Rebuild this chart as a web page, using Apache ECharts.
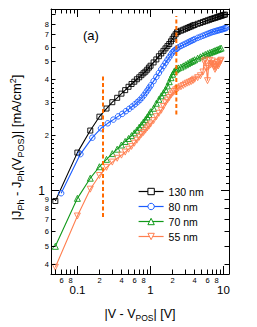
<!DOCTYPE html>
<html><head><meta charset="utf-8">
<script src="https://cdn.jsdelivr.net/npm/echarts@6/dist/echarts.min.js"></script>
<style>html,body{margin:0;padding:0;background:#fff}#c{width:257px;height:327px}</style>
</head><body><div id="c"></div>
<script>
const FONT = '"Liberation Sans", Arial, sans-serif';
const seriesNames = ['130 nm', '80 nm', '70 nm', '55 nm'];
const seriesColors = ['#000000', '#1a5cff', '#11991a', '#ff7f50'];

const x130 = [0.05,0.10,0.15,0.20,0.25,0.30,0.35,0.40,0.45,0.50,0.55,0.60,0.65,0.70,0.75,0.80,0.85,0.90,0.95,1.00,1.1,1.2,1.3,1.4,1.5,1.6,1.7,1.8,1.9,2.0,2.1,2.2,2.3,2.4,2.6,2.8,3.0,3.2,3.4,3.6,3.8,4.0,4.4,4.8,5.2,5.6,6.0,6.4,6.8,7.2,7.6,8.0,8.4,8.8,9.2,9.6,10.0,10.4];
const y130 = [0.88,1.61,2.12,2.52,2.79,3.02,3.19,3.36,3.51,3.66,3.79,3.90,4.02,4.12,4.23,4.33,4.42,4.53,4.65,4.76,4.96,5.15,5.36,5.55,5.73,5.91,6.08,6.24,6.45,6.66,6.86,7.05,7.23,7.28,7.37,7.46,7.55,7.63,7.71,7.78,7.86,7.92,8.03,8.12,8.22,8.30,8.38,8.45,8.53,8.59,8.65,8.71,8.76,8.82,8.87,8.92,8.97,9.01];

const x80 = [0.06,0.11,0.16,0.21,0.26,0.31,0.36,0.41,0.46,0.51,0.56,0.61,0.66,0.71,0.76,0.81,0.86,0.91,0.96,1.01,1.1,1.2,1.3,1.4,1.5,1.6,1.7,1.8,1.9,2.0,2.1,2.2,2.3,2.4,2.6,2.8,3.0,3.2,3.4,3.6,3.8,4.0,4.4,4.8,5.2,5.6,6.0,6.4,6.8,7.2,7.6,8.0,8.4,8.8,9.2,9.6,10.0,10.4,10.8];
const y80 = [0.97,1.58,1.94,2.18,2.32,2.43,2.53,2.61,2.70,2.78,2.86,2.94,3.02,3.10,3.19,3.29,3.40,3.51,3.62,3.73,3.93,4.14,4.35,4.55,4.74,4.93,5.12,5.29,5.47,5.63,5.74,5.82,5.90,5.98,6.09,6.18,6.26,6.34,6.42,6.49,6.56,6.63,6.74,6.83,6.92,7.00,7.08,7.15,7.22,7.27,7.31,7.36,7.40,7.44,7.48,7.51,7.55,7.59,7.62];

const x70 = [0.05,0.10,0.15,0.20,0.25,0.30,0.35,0.40,0.45,0.50,0.55,0.60,0.65,0.70,0.75,0.80,0.85,0.90,0.95,1.00,1.1,1.2,1.3,1.4,1.5,1.6,1.7,1.8,1.9,2.0,2.1,2.2,2.3,2.4,2.6,2.8,3.0,3.2,3.4,3.6,3.8,4.0,4.4,4.8,5.2,5.6,6.0,6.4,6.8,7.2,7.6,8.0,8.4,8.8,9.2];
const y70 = [0.50,0.91,1.17,1.35,1.48,1.59,1.68,1.77,1.85,1.92,1.99,2.06,2.13,2.21,2.28,2.36,2.43,2.51,2.59,2.68,2.80,2.98,3.13,3.27,3.40,3.53,3.70,3.90,4.10,4.28,4.43,4.52,4.58,4.63,4.68,4.75,4.82,4.89,4.96,5.02,5.07,5.13,5.23,5.32,5.40,5.48,5.54,5.60,5.65,5.70,5.75,5.80,5.84,5.89,5.93];

const x55 = [0.05,0.10,0.15,0.20,0.25,0.30,0.35,0.40,0.45,0.50,0.55,0.60,0.65,0.70,0.75,0.80,0.85,0.90,0.95,1.00,1.1,1.2,1.3,1.4,1.5,1.6,1.7,1.8,1.9,2.0,2.1,2.2,2.3,2.4,2.6,2.8,3.0,3.2,3.4,3.6,3.8,4.0,4.4,4.8,5.2,5.4,5.6,5.8,6.0,6.2,6.4,6.6,6.8,7.0,7.2,7.4,7.6,7.8,8.0,8.2,8.4,8.6,8.8,9.0,9.2];
const y55 = [0.385,0.73,1.02,1.21,1.34,1.43,1.50,1.56,1.62,1.68,1.74,1.81,1.88,1.95,2.02,2.07,2.13,2.19,2.24,2.30,2.40,2.52,2.63,2.73,2.86,3.00,3.10,3.20,3.30,3.38,3.45,3.52,3.56,3.60,3.66,3.72,3.78,3.83,3.87,3.91,3.96,4.02,4.10,4.20,4.40,5.00,5.10,4.60,3.95,4.70,5.10,4.80,4.90,5.05,4.85,4.70,4.55,4.65,4.80,4.95,4.75,4.85,5.00,5.05,5.10];

// vertical dashed guide lines
const guideX = [0.224, 2.25];
const guideYlow = [0.72, 2.59];
const guideYhigh = [4.26, 8.85];

// axis ranges
const X_RANGE = [0.0436, 11.8];
const Y_RANGE = [0.354, 9.66];

// ticks
const xTickVals = [0.05,0.06,0.07,0.08,0.09,0.1,0.2,0.3,0.4,0.5,0.6,0.7,0.8,0.9,1,2,3,4,5,6,7,8,9,10];
const xTickLabels = ['','6','','8','','0.1','2','','4','','6','','8','','1','2','','4','','6','','8','','10'];
const xMajorTicks = [0.1, 1, 10];

const yTickVals = [0.4,0.5,0.6,0.7,0.8,0.9,1,1.1,1.2,1.3,1.4,1.5,1.6,1.7,1.8,1.9,2,2.2,2.4,2.6,2.8,3,3.2,3.4,3.6,3.8,4,5,6,7,8,9];
const yTickLabels = ['4','5','6','7','8','9','1','','','','','','','','','','2','','','','','3','','','','','4','5','6','7','8',''];
const yMajorTicks = [1];
const ySubTicks = [1.1,1.2,1.3,1.4,1.5,1.6,1.7,1.8,1.9,2.2,2.4,2.6,2.8,3.2,3.4,3.6,3.8];

function pairs(xs, ys) { return xs.map((x, i) => [x, ys[i]]); }
function crisp(v) { return Math.round(v - 0.5) + 0.5; }

function xTickItem(params, api) {
  const i = params.dataIndex;
  const cs = params.coordSys;
  const v = xTickVals[i];
  const px = crisp(api.coord([v, Y_RANGE[0]])[0]);
  const major = xMajorTicks.indexOf(v) >= 0;
  const len = major ? 8 : 4.5;
  const bot = cs.y + cs.height, top = cs.y;
  const kids = [
    {type: 'line', shape: {x1: px, y1: bot, x2: px, y2: bot - len}, style: {stroke: '#000', lineWidth: 1}},
    {type: 'line', shape: {x1: px, y1: top, x2: px, y2: top + len}, style: {stroke: '#000', lineWidth: 1}}
  ];
  const lab = xTickLabels[i];
  if (lab) {
    kids.push({type: 'text', x: px, y: bot + (major ? 16 : 6.5),
      style: {text: lab, fontSize: major ? 11.5 : 7.5, fontFamily: FONT, fill: '#000',
        align: 'center', verticalAlign: 'middle', textAlign: 'center', textVerticalAlign: 'middle'}});
  }
  return {type: 'group', children: kids};
}

function yTickItem(params, api) {
  const i = params.dataIndex;
  const cs = params.coordSys;
  const v = yTickVals[i];
  const py = crisp(api.coord([X_RANGE[0], v])[1]);
  const major = yMajorTicks.indexOf(v) >= 0;
  const sub = ySubTicks.indexOf(v) >= 0;
  const len = major ? 8 : (sub ? 3 : 4.5);
  const left = cs.x, right = cs.x + cs.width;
  const kids = [
    {type: 'line', shape: {x1: left, y1: py, x2: left + len, y2: py}, style: {stroke: '#000', lineWidth: 1}},
    {type: 'line', shape: {x1: right, y1: py, x2: right - len, y2: py}, style: {stroke: '#000', lineWidth: 1}}
  ];
  const lab = yTickLabels[i];
  if (lab) {
    kids.push({type: 'text', x: left - (major ? 6 : 2), y: py,
      style: {text: lab, fontSize: major ? 12 : 7.5, fontFamily: FONT, fill: '#000',
        align: 'right', verticalAlign: 'middle', textAlign: 'right', textVerticalAlign: 'middle'}});
  }
  return {type: 'group', children: kids};
}

const symbols = ['rect', 'circle', 'triangle', 'triangle'];
const symbolSizes = [5, 5.5, 6, 6];
const symbolRotates = [0, 0, 0, 180];
const dataSets = [pairs(x130, y130), pairs(x80, y80), pairs(x70, y70), pairs(x55, y55)];

const dataSeries = seriesNames.map((name, k) => ({
  name: name, type: 'line', data: dataSets[k],
  symbol: symbols[k], symbolSize: symbolSizes[k], symbolRotate: symbolRotates[k],
  showSymbol: true,
  lineStyle: {color: seriesColors[k], width: 1.1},
  itemStyle: {color: 'rgba(255,255,255,0)', borderColor: seriesColors[k], borderWidth: 0.9},
  emphasis: {disabled: true},
  z: 3
}));

const guideSeries = guideX.map((gx, k) => ({
  name: 'guide' + k, type: 'line', symbol: 'none', silent: true, z: 4,
  data: [[gx, guideYlow[k]], [gx, guideYhigh[k]]],
  lineStyle: {color: '#ff6a00', width: 2, type: [4, 2.5]}
}));

const chart = echarts.init(document.getElementById('c'), null, {renderer: 'svg'});
chart.setOption({
  animation: false,
  backgroundColor: '#fff',
  textStyle: {fontFamily: FONT},
  title: {text: '(a)', left: 83, top: 29, padding: 0,
    textStyle: {fontSize: 13, fontWeight: 'normal', fontFamily: FONT, color: '#000'}},
  grid: {left: 49, right: 28, top: 9, bottom: 52},
  legend: {
    data: seriesNames, orient: 'vertical', left: 138, top: 186, padding: 0,
    itemWidth: 25, itemHeight: 8, itemGap: 4,
    itemStyle: {color: '#ffffff', borderWidth: 1},
    lineStyle: {width: 1.2},
    textStyle: {fontSize: 10.5, fontFamily: FONT, color: '#000'}
  },
  xAxis: [
    {type: 'log', min: X_RANGE[0], max: X_RANGE[1], position: 'bottom',
      axisLine: {show: true, lineStyle: {color: '#000', width: 1}},
      axisTick: {show: false}, axisLabel: {show: false}, splitLine: {show: false},
      name: '{n||V - V}{s|POS}{n|| [V]}', nameLocation: 'middle', nameGap: 32,
      nameTextStyle: {rich: {
        n: {fontSize: 12.5, lineHeight: 16, fontFamily: FONT, color: '#000'},
        s: {fontSize: 8.5, lineHeight: 9, verticalAlign: 'bottom', fontFamily: FONT, color: '#000'}}}},
    {type: 'log', min: X_RANGE[0], max: X_RANGE[1], position: 'top',
      axisLine: {show: true, lineStyle: {color: '#000', width: 1}},
      axisTick: {show: false}, axisLabel: {show: false}, splitLine: {show: false}}
  ],
  yAxis: [
    {type: 'log', min: Y_RANGE[0], max: Y_RANGE[1], position: 'left',
      axisLine: {show: true, lineStyle: {color: '#000', width: 1}},
      axisTick: {show: false}, axisLabel: {show: false}, splitLine: {show: false},
      name: '{n||J}{s|Ph}{n| - J}{s|Ph}{n|(V}{s|POS}{n|)| [mA/cm}{p|2}{n|]}',
      nameLocation: 'middle', nameRotate: 90, nameGap: 26,
      nameTextStyle: {padding: [0, 12, 0, 0], rich: {
        n: {fontSize: 13, lineHeight: 17, fontFamily: FONT, color: '#000'},
        s: {fontSize: 9, lineHeight: 9, verticalAlign: 'bottom', fontFamily: FONT, color: '#000'},
        p: {fontSize: 9, lineHeight: 9, verticalAlign: 'top', fontFamily: FONT, color: '#000'}}}},
    {type: 'log', min: Y_RANGE[0], max: Y_RANGE[1], position: 'right',
      axisLine: {show: true, lineStyle: {color: '#000', width: 1}},
      axisTick: {show: false}, axisLabel: {show: false}, splitLine: {show: false}}
  ],
  series: dataSeries.concat(guideSeries).concat([
    {type: 'custom', name: 'xticks', silent: true, z: 5,
      data: xTickVals.map(v => [v, Y_RANGE[0]]), renderItem: xTickItem},
    {type: 'custom', name: 'yticks', silent: true, z: 5,
      data: yTickVals.map(v => [X_RANGE[0], v]), renderItem: yTickItem}
  ])
});
</script>
</body></html>
